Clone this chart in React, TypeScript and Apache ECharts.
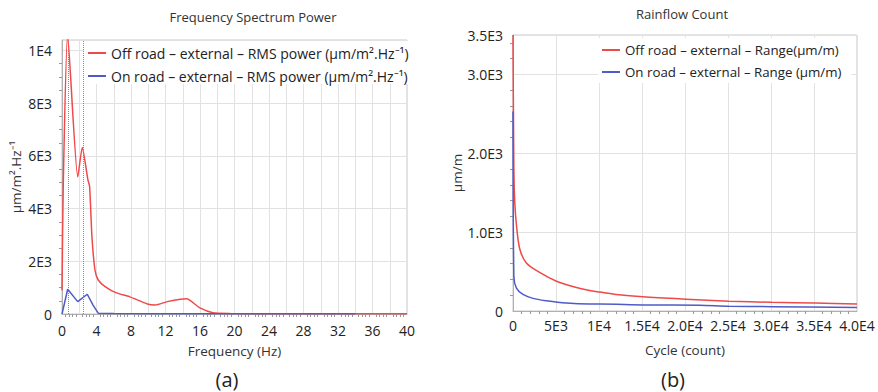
import React, { useEffect, useRef } from "react";
import * as echarts from "echarts";

// ---- Chart (a): Frequency Spectrum Power ----
const freqOff = [0, 0.15, 0.65, 1.83, 2.35, 3.0, 3.2, 3.47, 3.82, 4.2, 5.0, 6.3, 7.8, 9.9, 10.8, 12.2, 13.7, 14.4, 14.8, 16.0, 17.5, 19.5, 24, 30, 40];
const powerOff = [900, 5000, 10600, 5200, 6320, 5100, 4850, 2940, 1670, 1290, 1040, 800, 660, 380, 340, 470, 560, 580, 530, 230, 50, 20, 8, 5, 5];
const freqOn = [0, 0.66, 1.82, 2.93, 3.6, 4.2, 6, 10, 20, 34];
const powerOn = [0, 940, 470, 750, 340, 30, 15, 10, 6, 5];
const markFreqs = [0.73, 2.47];

const leftYTickValues = [0, 2000, 4000, 6000, 8000, 10000];
const leftYTickLabels = ["0", "2E3", "4E3", "6E3", "8E3", "1E4"];

// ---- Chart (b): Rainflow Count ----
const cycleOff = [0, 100, 200, 400, 780, 1550, 3100, 5000, 6950, 8900, 10100, 12000, 15100, 20100, 25100, 30100, 35200, 40000];
const rangeOff = [3500, 1800, 1390, 1090, 790, 610, 490, 380, 310, 260, 240, 210, 180, 150, 125, 110, 100, 90];
const cycleOn = [0, 100, 400, 1160, 2330, 3880, 6200, 8900, 10100, 15100, 21700, 25100, 30100, 40000];
const rangeOn = [2530, 440, 290, 210, 160, 130, 100, 88, 88, 77, 73, 60, 55, 45];

const rightXTickValues = [0, 5000, 10000, 15000, 20000, 25000, 30000, 35000, 40000];
const rightXTickLabels = ["0", "5E3", "1E4", "1.5E4", "2.0E4", "2.5E4", "3.0E4", "3.5E4", "4.0E4"];
const rightYTickValues = [0, 1000, 2000, 3000, 3500];
const rightYTickLabels = ["0", "1.0E3", "2.0E3", "3.0E3", "3.5E3"];

const seriesNames = [
  "Off road – external – RMS power (µm/m².Hz⁻¹)",
  "On road – external – RMS power (µm/m².Hz⁻¹)",
  "Off road – external – Range(µm/m)",
  "On road – external – Range (µm/m)",
];

const RED = "#ee4a4a";
const BLUE = "#4f5bc6";
const FONT = "Open Sans";

function lookup(values: number[], labels: string[]) {
  return (v: number) => {
    const i = values.findIndex((x) => Math.abs(x - v) < 1e-6);
    return i >= 0 ? labels[i] : "";
  };
}

function pairs(xs: number[], ys: number[]) {
  return xs.map((x, i) => [x, ys[i]]);
}

export default function App() {
  const ref = useRef<HTMLDivElement>(null);
  useEffect(() => {
    if (!ref.current) return;
    const chart = echarts.init(ref.current, undefined, { renderer: "svg" });
    const axisLabel = { color: "#222", fontSize: 14, fontFamily: FONT };
    const nameStyle = { color: "#333", fontSize: 13.5, fontFamily: FONT };
    const splitLine = { show: true, lineStyle: { color: "#e2e2e2", width: 1 } };
    const axisLine = { show: true, lineStyle: { color: "#b0b0b0", width: 1 } };
    const minorTick = { show: true, splitNumber: 5, length: 3, lineStyle: { color: "#999" } };
    const legendBase = {
      orient: "vertical" as const,
      icon: "rect",
      itemWidth: 18,
      itemHeight: 2,
      backgroundColor: "#fff",
    };
    const titleStyle = { fill: "#333", fontSize: 13, fontFamily: FONT, align: "center", verticalAlign: "middle", textAlign: "center", textVerticalAlign: "middle" };
    const capStyle = { fill: "#222", fontSize: 20, fontFamily: FONT, align: "center", verticalAlign: "middle", textAlign: "center", textVerticalAlign: "middle" };

    chart.setOption({
      animation: false,
      backgroundColor: "#fff",
      grid: [
        { left: 62, top: 40, width: 345, height: 274, show: true, borderColor: "#c8c8c8", borderWidth: 1, backgroundColor: "transparent" },
        { left: 513, top: 35, width: 344, height: 276, show: true, borderColor: "#c8c8c8", borderWidth: 1, backgroundColor: "transparent" },
      ],
      legend: [
        {
          ...legendBase,
          left: 84,
          top: 41,
          padding: [4, 6, 0, 4],
          itemGap: 7,
          textStyle: { color: "#222", fontSize: 14, fontFamily: FONT, lineHeight: 16 },
          data: [seriesNames[0], seriesNames[1]],
        },
        {
          ...legendBase,
          left: 598,
          top: 38,
          padding: [4, 10, 3, 4],
          itemGap: 6,
          textStyle: { color: "#222", fontSize: 13.3, fontFamily: FONT, lineHeight: 16 },
          data: [seriesNames[2], seriesNames[3]],
        },
      ],
      xAxis: [
        {
          type: "value",
          gridIndex: 0,
          min: 0,
          max: 40,
          interval: 2,
          axisLine,
          axisTick: { show: false },
          minorTick: { ...minorTick, splitNumber: 5 },
          splitLine,
          axisLabel: { ...axisLabel, margin: 9, formatter: (v: number) => (v % 4 === 0 ? String(v) : "") },
          name: "Frequency (Hz)",
          nameLocation: "middle",
          nameGap: 30,
          nameTextStyle: nameStyle,
        },
        {
          type: "value",
          gridIndex: 1,
          min: 0,
          max: 40000,
          interval: 5000,
          axisLine,
          axisTick: { show: false },
          minorTick,
          splitLine,
          axisLabel: { ...axisLabel, margin: 7, formatter: lookup(rightXTickValues, rightXTickLabels) },
          name: "Cycle (count)",
          nameLocation: "middle",
          nameGap: 32,
          nameTextStyle: nameStyle,
        },
      ],
      yAxis: [
        {
          type: "value",
          gridIndex: 0,
          min: 0,
          max: 10400,
          interval: 2000,
          axisLine,
          axisTick: { show: false },
          minorTick: { ...minorTick, splitNumber: 4 },
          splitLine,
          axisLabel: { ...axisLabel, margin: 10, formatter: lookup(leftYTickValues, leftYTickLabels) },
          name: "µm/m².Hz⁻¹",
          nameLocation: "middle",
          nameGap: 39,
          nameRotate: 90,
          nameTextStyle: nameStyle,
        },
        {
          type: "value",
          gridIndex: 1,
          min: 0,
          max: 3500,
          interval: 1000,
          axisLine,
          axisTick: { show: false },
          minorTick,
          splitLine,
          axisLabel: { ...axisLabel, margin: 10, formatter: lookup(rightYTickValues, rightYTickLabels) },
          name: "µm/m",
          nameLocation: "middle",
          nameGap: 49,
          nameRotate: 90,
          nameTextStyle: nameStyle,
        },
      ],
      series: [
        {
          name: seriesNames[0],
          type: "line",
          xAxisIndex: 0,
          yAxisIndex: 0,
          showSymbol: false,
          symbol: "none",
          smooth: 0.2,
          color: RED,
          lineStyle: { color: RED, width: 1.5 },
          data: pairs(freqOff, powerOff),
          markLine: {
            silent: true,
            symbol: "none",
            label: { show: false },
            lineStyle: { type: "dotted", color: "#888", width: 1 },
            data: markFreqs.map((f) => ({ xAxis: f })),
          },
          z: 2,
        },
        {
          name: seriesNames[1],
          type: "line",
          xAxisIndex: 0,
          yAxisIndex: 0,
          showSymbol: false,
          symbol: "none",
          color: BLUE,
          lineStyle: { color: BLUE, width: 1.5 },
          data: pairs(freqOn, powerOn),
          z: 3,
        },
        {
          name: seriesNames[2],
          type: "line",
          xAxisIndex: 1,
          yAxisIndex: 1,
          showSymbol: false,
          symbol: "none",
          smooth: 0.3,
          color: RED,
          lineStyle: { color: RED, width: 1.5 },
          data: pairs(cycleOff, rangeOff),
        },
        {
          name: seriesNames[3],
          type: "line",
          xAxisIndex: 1,
          yAxisIndex: 1,
          showSymbol: false,
          symbol: "none",
          smooth: 0.3,
          color: BLUE,
          lineStyle: { color: BLUE, width: 1.5 },
          data: pairs(cycleOn, rangeOn),
        },
      ],
      graphic: [
        { type: "text", x: 253, y: 17, style: { ...titleStyle, text: "Frequency Spectrum Power" } },
        { type: "text", x: 682, y: 14, style: { ...titleStyle, text: "Rainflow Count" } },
        { type: "text", x: 227, y: 379, style: { ...capStyle, text: "(a)" } },
        { type: "text", x: 673, y: 379, style: { ...capStyle, text: "(b)" } },
      ],
    });
    return () => chart.dispose();
  }, []);
  return <div ref={ref} style={{ position: "fixed", left: 0, top: 0, width: 878, height: 392 }} />;
}
